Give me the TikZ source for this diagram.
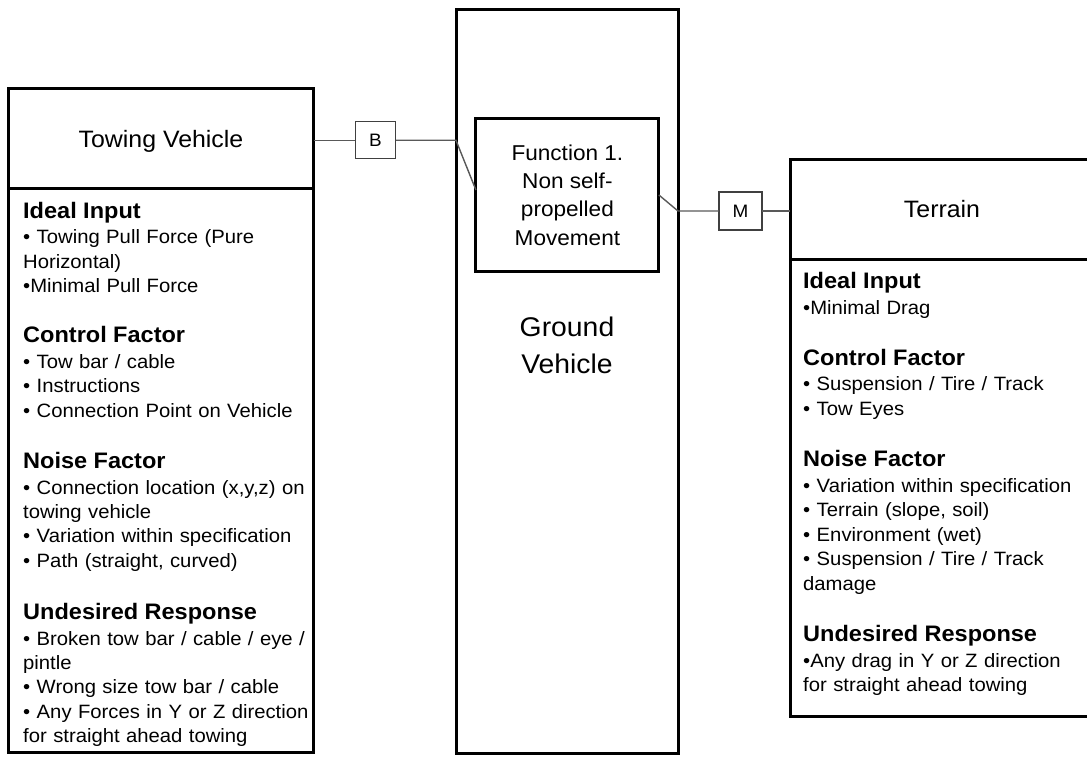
\documentclass[tikz,border=0pt]{standalone}
\usepackage{fontspec}
\setmainfont{Liberation Sans}[FakeStretch=1.05]
\usepackage{tikz}
\usetikzlibrary{positioning, calc}

\newcommand{\hd}[1]{{\fontsize{22.4}{24.4}\selectfont\bfseries #1}}

\tikzset{
  blk/.style={draw, line width=3pt, rectangle, inner sep=0pt, outer sep=0pt},
  hdr/.style={blk, minimum height=100pt, text depth=0pt, font=\fontsize{23.7}{28}\selectfont},
  tag/.style={draw=black!75, line width=1.2pt, inner sep=0pt, outer sep=0pt, font=\fontsize{18}{20}\selectfont},
  link/.style={black!65, line width=1.4pt},
  sect/.style={anchor=base west, inner sep=0pt, text width=290pt, align=left,
    font=\fontsize{19.3}{24.4}\selectfont},
}

\begin{document}
\begin{tikzpicture}[x=1pt, y=-1pt]
\useasboundingbox (0,0) rectangle (1087,757);

% towing vehicle
\node[hdr, minimum width=305pt] (towhdr) at (161,138.5) {Towing Vehicle};
\node[blk, minimum width=305pt, minimum height=564pt, anchor=north] (towbody) at (towhdr.south) {};
\node[sect] (towideal) at (23,218) {\hd{Ideal Input}\\[1.3pt]
  • Towing Pull Force (Pure\\ Horizontal)\\ •Minimal Pull Force};
\node[sect] (towctrl) at (23,342.7) {\hd{Control Factor}\\[1.3pt]
  • Tow bar / cable\\ • Instructions\\ • Connection Point on Vehicle};
\node[sect] (townoise) at (23,468.3) {\hd{Noise Factor}\\[1.3pt]
  • Connection location (x,y,z) on\\ towing vehicle\\ • Variation within specification\\ • Path (straight, curved)};
\node[sect] (towresp) at (23,619.3) {\hd{Undesired Response}\\[1.3pt]
  • Broken tow bar / cable / eye /\\ pintle\\ • Wrong size tow bar / cable\\ • Any Forces in Y or Z direction\\ for straight ahead towing};

% ground vehicle
\node[blk, minimum width=222pt, minimum height=743pt] (gv) at (567,381.5) {};
\node[align=center, font=\fontsize{27}{36.7}\selectfont] (gvname) at (567,345) {Ground\\ Vehicle};
\node[blk, minimum width=183pt, minimum height=153pt, align=center,
  font=\fontsize{21.5}{28.3}\selectfont] (fn) at (567.4,195) {Function 1.\\ Non self-\\ propelled\\ Movement};

% terrain
\node[hdr, minimum width=304pt] (terhdr) at (942,209.3) {Terrain};
\node[blk, minimum width=304pt, minimum height=456.7pt, anchor=north] (terbody) at (terhdr.south) {};
\node[sect] (terideal) at (803,288.3) {\hd{Ideal Input}\\[1.3pt] •Minimal Drag};
\node[sect] (terctrl) at (803,365) {\hd{Control Factor}\\[1.3pt]
  • Suspension / Tire / Track\\ • Tow Eyes};
\node[sect] (ternoise) at (803,466.7) {\hd{Noise Factor}\\[1.3pt]
  • Variation within specification\\ • Terrain (slope, soil)\\ • Environment (wet)\\ • Suspension / Tire / Track\\ damage};
\node[sect] (terresp) at (803,641.7) {\hd{Undesired Response}\\[1.3pt]
  •Any drag in Y or Z direction\\ for straight ahead towing};

% interfaces
\node[tag, minimum width=40.5pt, minimum height=37pt] (tagB) at (375.5,140.3) {B};
\node[tag, minimum width=43pt, minimum height=38pt] (tagM) at (740.5,211) {M};
\draw[link] (towhdr.east |- tagB.west) -- (tagB.west);
\draw[link] (tagB.east) -- (tagB.east -| gv.west) -- ($(fn.west)+(0,-5)$);
\draw[link] (fn.east) -- (tagM.west -| gv.east) -- (tagM.west);
\draw[link] (tagM.east) -- (tagM.east -| terhdr.west);
\end{tikzpicture}
\end{document}
